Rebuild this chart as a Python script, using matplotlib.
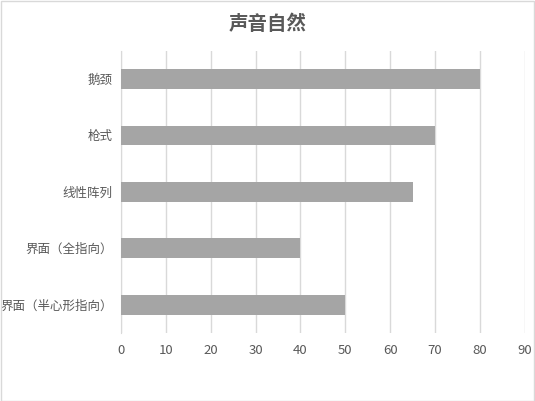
import matplotlib.pyplot as plt
from matplotlib.patches import Rectangle

plt.rcParams['font.family'] = ['Noto Sans CJK SC', 'DejaVu Sans']

categories = ['鹅颈', '枪式', '线性阵列', '界面（全指向）', '界面（半心形指向）']
values = [80, 70, 65, 40, 50]
xticks = [0, 10, 20, 30, 40, 50, 60, 70, 80, 90]

fig = plt.figure(figsize=(5.35, 4.01), dpi=100)
ax = fig.add_axes([0.226, 0.170, 0.755, 0.703])

ax.barh(range(len(categories)), values, height=0.35, color='#A5A5A5', zorder=3)
ax.set_ylim(len(categories) - 0.5, -0.5)
ax.set_xlim(0, 90)
ax.set_xticks(xticks)
ax.set_yticks(range(len(categories)))
ax.set_yticklabels(categories)

ax.grid(axis='x', color='#D9D9D9', linewidth=1, zorder=0)
for s in ['top', 'right', 'bottom']:
    ax.spines[s].set_visible(False)
ax.spines['left'].set_color('#D9D9D9')
ax.tick_params(axis='both', length=0, colors='#595959')
ax.tick_params(axis='x', pad=8, labelsize=9.5)
ax.tick_params(axis='y', pad=6, labelsize=9)

fig.text(0.5, 0.94, '声音自然', ha='center', va='center', fontsize=14,
         fontweight='bold', color='#595959')

fig.patches.append(Rectangle((0.001, 0.001), 0.997, 0.997, transform=fig.transFigure,
                             fill=False, edgecolor='#D9D9D9', linewidth=1))

fig.savefig('out.png', dpi=100)
